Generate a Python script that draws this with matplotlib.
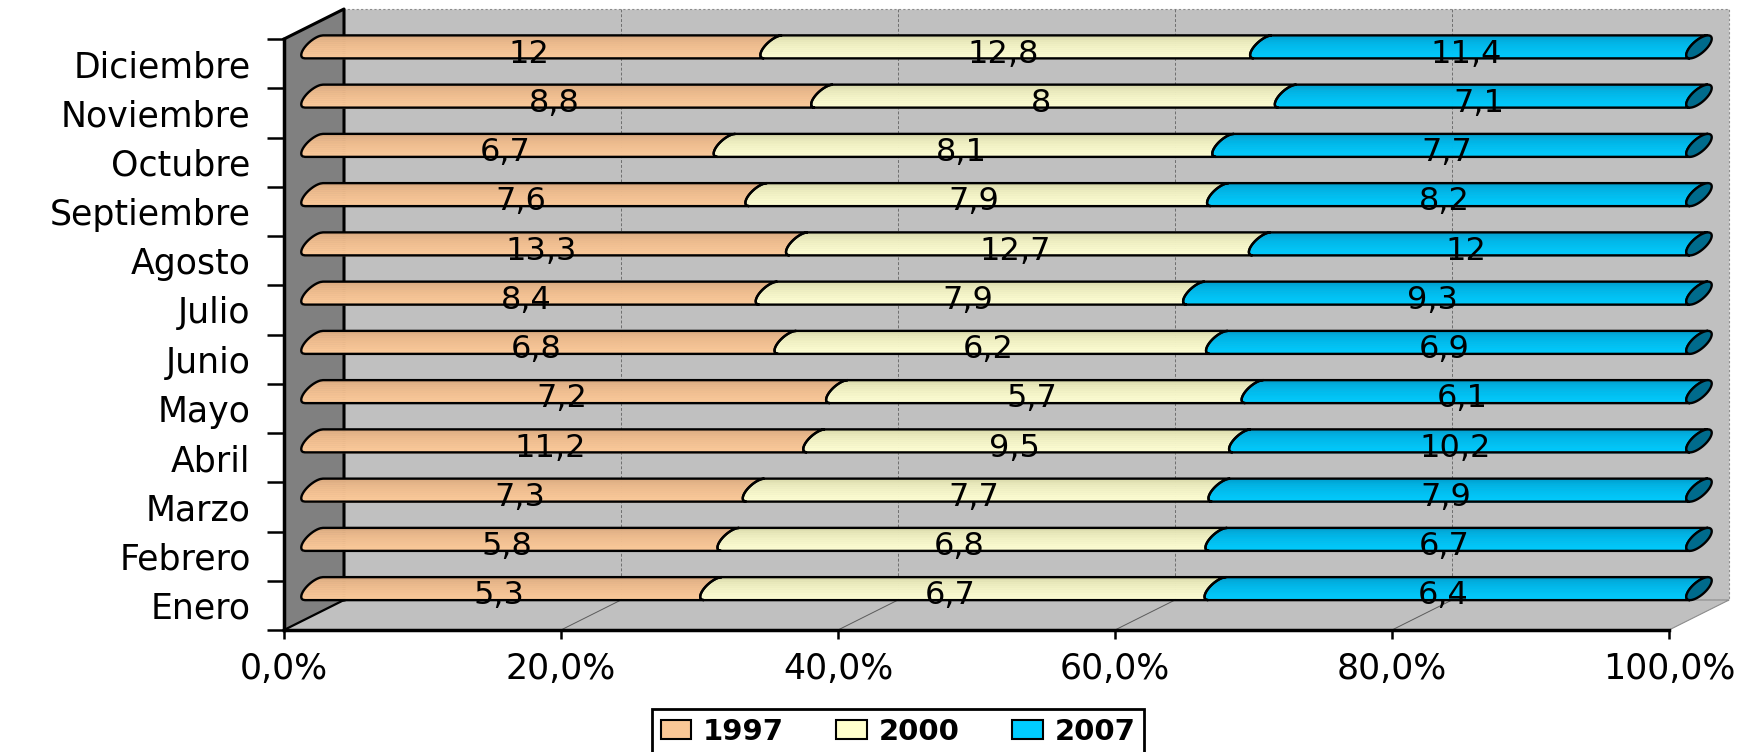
import numpy as np
import matplotlib
matplotlib.use("Agg")
import matplotlib.pyplot as plt
from matplotlib.patches import Polygon, Patch
from matplotlib.colors import to_rgb

# data
months = ['Enero', 'Febrero', 'Marzo', 'Abril', 'Mayo', 'Junio', 'Julio',
          'Agosto', 'Septiembre', 'Octubre', 'Noviembre', 'Diciembre']
years = ['1997', '2000', '2007']
v1997 = [5.3, 5.8, 7.3, 11.2, 7.2, 6.8, 8.4, 13.3, 7.6, 6.7, 8.8, 12]
v2000 = [6.7, 6.8, 7.7, 9.5, 5.7, 6.2, 7.9, 12.7, 7.9, 8.1, 8, 12.8]
v2007 = [6.4, 6.7, 7.9, 10.2, 6.1, 6.9, 9.3, 12, 8.2, 7.7, 7.1, 11.4]
xticks = [0, 20, 40, 60, 80, 100]
xticklabels = ['0,0%', '20,0%', '40,0%', '60,0%', '80,0%', '100,0%']

legend_colors = ['#fac896', '#ffffcc', '#00ccff']
# (top, bottom) of the cylinder shading for each series
shades = [('#d6a67c', '#fcca9a'), ('#d6d6a6', '#ffffd4'), ('#0098c8', '#00ccff')]
cap_color = '#006b8c'
wall = '#c0c0c0'

W, H = 1762, 752
fig = plt.figure(figsize=(W / 100, H / 100), dpi=100)
x0px, x1px, ytop, ybot = 284, 1669, 39, 630
ax = fig.add_axes([x0px / W, (H - ybot) / H, (x1px - x0px) / W, (ybot - ytop) / H])
ax.set_xlim(0, 100)
ax.set_ylim(-0.5, 11.5)
ax.patch.set_visible(False)

pxx = (x1px - x0px) / 100.0
pxy = (ybot - ytop) / 12.0
DX = 60 / pxx   # depth of the 3d box, in data units
DY = 30 / pxy

# back wall and floor
ax.add_patch(Polygon([(DX, -0.5 + DY), (100 + DX, -0.5 + DY), (100 + DX, 11.5 + DY), (DX, 11.5 + DY)],
                     closed=True, fc=wall, ec='#8c8c8c', lw=0.8, ls=(0, (2, 2)), clip_on=False, zorder=0.1))
ax.add_patch(Polygon([(0, -0.5), (100, -0.5), (100 + DX, -0.5 + DY), (DX, -0.5 + DY)],
                     closed=True, fc=wall, ec='#8c8c8c', lw=0.8, clip_on=False, zorder=0.1))
for t in xticks[1:-1]:
    ax.plot([t + DX, t + DX], [-0.5 + DY, 11.5 + DY], color='#6e6e6e', lw=0.7, ls=(0, (3, 2)),
            clip_on=False, zorder=0.2)
    ax.plot([t, t + DX], [-0.5, -0.5 + DY], color='#5a5a5a', lw=0.7, clip_on=False, zorder=0.2)

# left side wall
ax.add_patch(Polygon([(0, -0.5), (DX, -0.5 + DY), (DX, 11.5 + DY), (0, 11.5)],
                     closed=True, fc='#808080', ec='none', clip_on=False, zorder=0.3))
ax.plot([0, DX, DX], [11.5, 11.5 + DY, -0.5 + DY], color='black', lw=2.2, clip_on=False, zorder=0.4)
ax.plot([0, DX], [-0.5, -0.5 + DY], color='black', lw=1.6, clip_on=False, zorder=0.4)

# cylinder bars
BH = 11.5 / pxy
BOFF = 0.34
A = 9 / pxx
S = 9 / pxx


def edge(p, u):
    return p + DX / 2 - A * np.sqrt(np.clip(1 - u ** 2, 0, None)) + S * u


nb = 12
uu = np.linspace(-1, 1, 60)
tt = np.linspace(0, 2 * np.pi, 80)
for i in range(len(months)):
    vals = [v1997[i], v2000[i], v2007[i]]
    tot = sum(vals)
    yc = i + BOFF
    left = 0.0
    for k, v in enumerate(vals):
        right = left + v / tot * 100
        top, bot = np.array(to_rgb(shades[k][0])), np.array(to_rgb(shades[k][1]))
        for j in range(nb):
            ub = np.linspace(-1 + 2 * j / nb, -1 + 2 * (j + 1) / nb, 8)
            f = ((1 - ub.mean()) / 2) ** 0.5
            c = bot + (top - bot) * (1 - f)
            ax.fill_betweenx(yc + BH * ub, edge(left, ub), edge(right, ub), color=c, lw=0.5,
                             clip_on=False, zorder=2.8)
        xs = np.r_[edge(left, uu), edge(right, uu[::-1])]
        ys = np.r_[yc + BH * uu, yc + BH * uu[::-1]]
        ax.add_patch(Polygon(np.c_[xs, ys], closed=True, fill=False, ec='black', lw=1.7,
                             clip_on=False, zorder=3))
        ax.text((left + right) / 2 + 1.1, i + 0.02, f"{v:g}".replace('.', ','), ha='center',
                va='baseline', fontsize=23, zorder=5)
        left = right
    cx = 100 + DX / 2
    ax.fill(cx + A * np.cos(tt) + S * np.sin(tt), yc + BH * np.sin(tt), fc=cap_color, ec='black',
            lw=1.7, clip_on=False, zorder=3.5)

# axes
ax.set_xticks(xticks, xticklabels)
ax.set_yticks(range(len(months)), months)
ax.set_yticks(np.arange(-0.5, 12, 1), minor=True)
ax.tick_params(axis='x', length=6.5, width=1.8, pad=9, labelsize=25)
ax.tick_params(axis='y', which='major', length=0, pad=24, labelsize=25)
ax.tick_params(axis='y', which='minor', length=12, width=1.8)
for sp in ['top', 'right']:
    ax.spines[sp].set_visible(False)
ax.spines['left'].set_linewidth(2.5)
ax.spines['bottom'].set_linewidth(2.5)

handles = [Patch(fc=c, ec='black', lw=1.5) for c in legend_colors]
leg = fig.legend(handles, years, loc='upper center', bbox_to_anchor=(898 / W, (H - 709) / H), ncol=3,
                 frameon=True, fancybox=False, prop={'weight': 'bold', 'size': 21},
                 handlelength=1.05, handleheight=0.62, handletextpad=0.4, columnspacing=1.8,
                 borderpad=0.3, borderaxespad=0, edgecolor='black', framealpha=1)
leg.get_frame().set_linewidth(2)

fig.savefig('out.png', dpi=100)
